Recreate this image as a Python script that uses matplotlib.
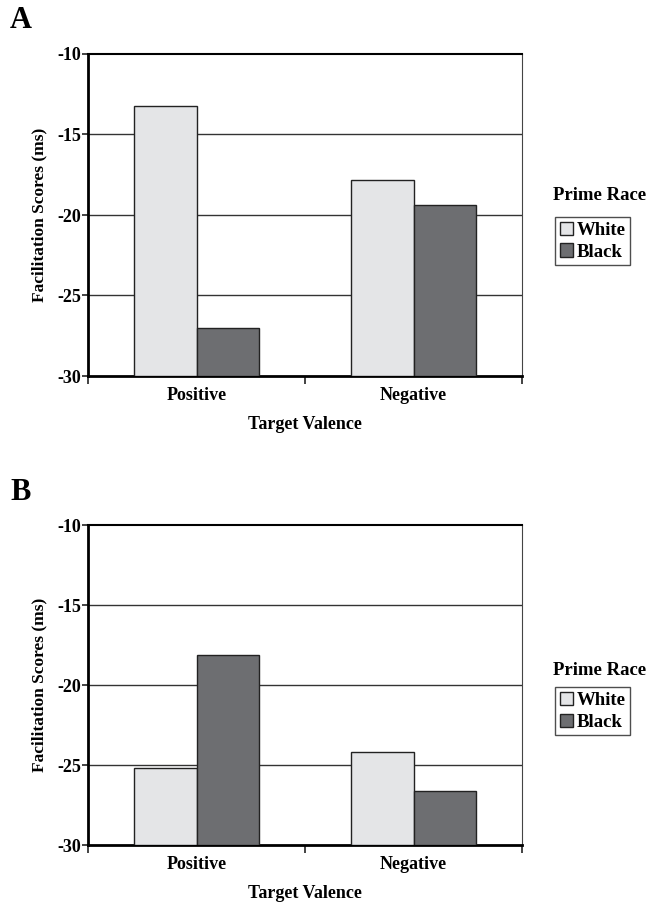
import matplotlib
matplotlib.use("Agg")
import matplotlib.pyplot as plt
import numpy as np
import os
from matplotlib.patches import Patch
from matplotlib.font_manager import FontProperties, findfont

BOLD_PATH = "/usr/share/fonts/truetype/liberation/LiberationSerif-Bold.ttf"
if not os.path.exists(BOLD_PATH):
    BOLD_PATH = findfont(FontProperties(family='Liberation Serif', weight='bold'))


def fp(size):
    return FontProperties(fname=BOLD_PATH, size=size)


categories = ["Positive", "Negative"]
series = ["White", "Black"]
panel_a = {"White": [-13.2, -17.8], "Black": [-27.0, -19.4]}
panel_b = {"White": [-25.2, -24.2], "Black": [-18.1, -26.6]}
y_ticks = [-30, -25, -20, -15, -10]

colors = {"White": "#e4e5e7", "Black": "#6d6e71"}
W, H = 650, 905
fig = plt.figure(figsize=(W / 100, H / 100), dpi=100)


def draw_panel(data, top_px, bottom_px, label, legend_title_y, legend_top):
    ax = fig.add_axes([88 / W, (H - bottom_px) / H, 434 / W, (bottom_px - top_px) / H])
    x = np.arange(len(categories))
    bw = 0.286
    base = -30
    for i, s in enumerate(series):
        vals = np.array(data[s])
        ax.bar(x + (i - 0.5) * bw, vals - base, bw, bottom=base,
               color=colors[s], edgecolor="#222222", linewidth=1.0, zorder=3)
    ax.set_xlim(-0.5, 1.5)
    ax.set_ylim(-30, -10)
    ax.set_yticks(y_ticks)
    ax.set_yticklabels([str(t) for t in y_ticks], fontproperties=fp(13))
    for t in y_ticks[1:-1]:
        ax.axhline(t, color="#333333", linewidth=1.0, zorder=1)
    ax.set_xticks([-0.5, 0.5, 1.5])
    ax.set_xticklabels([])
    ax.tick_params(axis='x', direction='out', length=6, width=1.2, color='#222222')
    ax.tick_params(axis='y', direction='out', length=4, width=1.2, color='#222222', pad=1)
    for i, c in enumerate(categories):
        ax.text(x[i], -31.2, c, ha='center', va='center', fontproperties=fp(13))
    ax.text(0.5, -33.0, "Target Valence", ha='center', va='center', fontproperties=fp(13))
    ax.set_ylabel("Facilitation Scores (ms)", fontproperties=fp(12.5), labelpad=7)
    ax.spines['left'].set_linewidth(2.0)
    ax.spines['bottom'].set_linewidth(2.0)
    ax.spines['top'].set_linewidth(1.5)
    ax.spines['right'].set_linewidth(0.8)
    ax.spines['right'].set_color('#444444')
    fig.text(10 / W, 1 - (top_px - 33) / H, label, va='center', fontproperties=fp(22))
    fig.text(600 / W, 1 - legend_title_y / H, "Prime Race", ha='center', va='center',
             fontproperties=fp(13.5))
    handles = [Patch(facecolor=colors[s], edgecolor='#222222', linewidth=1.0, label=s) for s in series]
    leg = fig.legend(handles=handles, loc='upper left',
                     bbox_to_anchor=(555 / W, 1 - legend_top / H),
                     frameon=True, fancybox=False, edgecolor='#222222',
                     handlelength=0.7, handleheight=0.7, handletextpad=0.2,
                     borderpad=0.25, labelspacing=0.25, borderaxespad=0,
                     prop=fp(13.5))
    leg.get_frame().set_linewidth(1.0)
    return ax


draw_panel(panel_a, 54, 376, "A", 196, 217)
draw_panel(panel_b, 525, 845, "B", 670, 687)

fig.savefig("out.png", dpi=100)
